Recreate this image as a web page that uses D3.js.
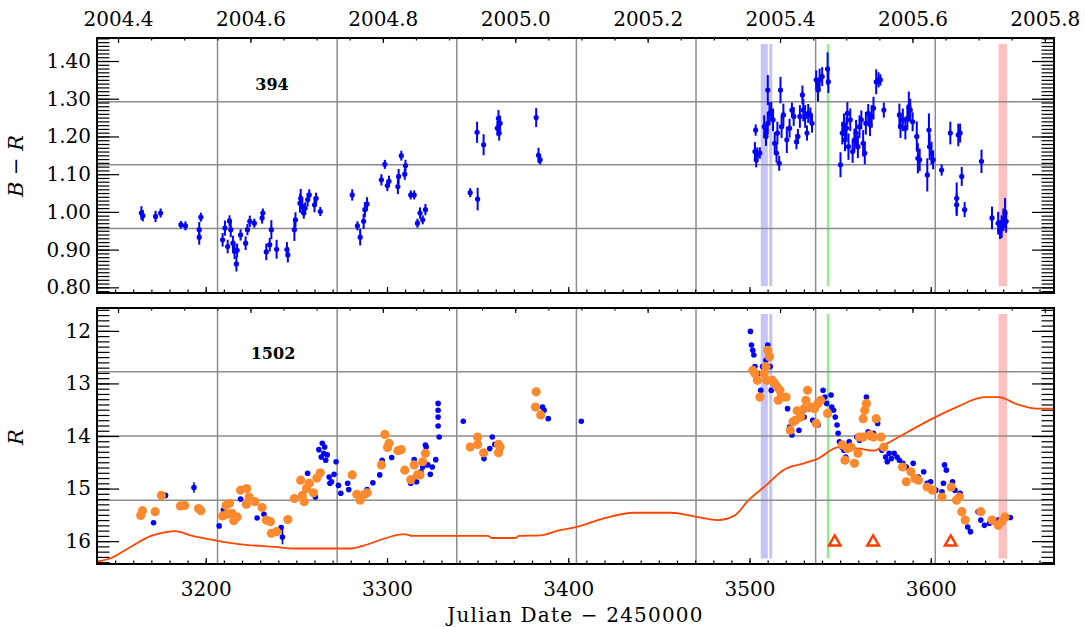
<!DOCTYPE html>
<html>
<head>
<meta charset="utf-8">
<script src="https://cdn.jsdelivr.net/npm/d3@7"></script>
<style>
body { margin: 0; background: #fff; }
svg text { font-family: "DejaVu Serif", serif; fill: #000; }
</style>
</head>
<body>
<div id="chart"></div>
<script>
// ---- data ----
// B - R colour, top panel
const bmrJD = [3164.5,3165.3,3172.3,3175.1,3186.3,3188.8,3196.4,3196.4,3197.3,3209.3,3210.6,3212.1,3213.1,3213.8,3215.0,3215.9,3216.9,3217.3,3219.2,3222.0,3223.0,3224.3,3226.8,3231.1,3231.5,3233.4,3235.3,3236.2,3239.1,3244.8,3245.3,3248.9,3249.5,3252.0,3252.4,3253.3,3254.1,3254.8,3256.2,3257.1,3260.0,3260.9,3263.2,3280.8,3283.7,3285.2,3287.1,3287.8,3289.0,3296.9,3298.8,3300.2,3301.1,3306.0,3306.4,3307.9,3309.8,3310.2,3313.1,3315.0,3316.8,3318.2,3319.7,3321.2,3345.9,3349.7,3350.0,3353.3,3360.9,3361.5,3361.9,3362.4,3382.3,3383.6,3384.5,
  3503.4,3503.0,3504.3,3505.7,3503.7,3508.1,3509.1,3510.1,3510.1,3511.0,3512.0,3513.0,3513.9,3514.9,3516.4,3515.4,3517.1,3517.7,3518.7,3520.6,3522.1,3523.4,3524.4,3525.9,3526.7,3527.8,3529.2,3529.7,3530.7,3531.7,3532.4,3533.6,3534.5,3536.8,3537.8,3538.7,3540.1,3543.1,3543.5,
  3550.2,3551.2,3552.1,3552.7,3553.5,3554.0,3554.6,3555.6,3556.9,3557.9,3558.8,3559.8,3560.7,3561.7,3562.7,3563.6,3564.2,3565.5,3566.5,3567.4,3568.4,3569.9,3571.2,3572.2,3574.1,
  3582.7,3583.3,3584.6,3586.0,3587.1,3587.9,3588.7,3590.0,3592.3,3592.9,3593.9,3598.1,3599.0,3599.4,3600.4,3601.3,3606.0,3610.8,3614.3,3614.3,3615.2,3616.2,3617.1,3618.7,3628.0,3633.8,3637.2,3638.2,3639.1,3640.1,3641.0,3641.6];
const bmrVal = [0.997,0.990,0.988,0.997,0.966,0.963,0.953,0.933,0.986,0.926,0.957,0.908,0.976,0.953,0.917,0.895,0.862,0.898,0.939,0.917,0.953,0.975,0.970,0.984,0.997,0.894,0.913,0.953,0.901,0.900,0.886,0.953,0.979,1.023,1.036,1.014,0.997,1.010,1.032,1.045,1.019,1.036,1.001,1.045,0.963,0.933,0.975,1.006,1.021,1.085,1.126,1.070,1.081,1.067,1.094,1.149,1.100,1.123,1.045,1.045,0.970,0.997,0.979,1.006,1.051,1.211,1.034,1.178,1.222,1.248,1.209,1.235,1.250,1.150,1.138,
  1.217,1.160,1.151,1.156,1.138,1.226,1.200,1.323,1.235,1.261,1.266,1.244,1.182,1.156,1.129,1.209,1.323,1.226,1.257,1.191,1.222,1.270,1.253,1.186,1.200,1.253,1.310,1.270,1.253,1.209,1.261,1.257,1.235,1.350,1.323,1.350,1.359,1.379,1.345,
  1.125,1.209,1.231,1.191,1.222,1.261,1.173,1.244,1.160,1.191,1.209,1.173,1.226,1.244,1.182,1.156,1.235,1.261,1.231,1.253,1.275,1.345,1.350,1.350,1.270,
  1.257,1.226,1.244,1.222,1.248,1.279,1.270,1.239,1.200,1.142,1.138,1.098,1.217,1.173,1.156,1.138,1.111,1.209,1.036,1.019,1.204,1.209,1.094,1.006,1.134,0.984,0.970,0.953,0.961,0.979,0.997,0.975];
const bmrErr = [0.018,0.015,0.015,0.012,0.010,0.012,0.020,0.020,0.012,0.018,0.020,0.018,0.015,0.020,0.020,0.020,0.020,0.018,0.015,0.018,0.015,0.015,0.012,0.015,0.012,0.022,0.018,0.025,0.025,0.020,0.020,0.030,0.020,0.025,0.025,0.020,0.015,0.015,0.018,0.015,0.020,0.015,0.012,0.015,0.012,0.022,0.020,0.020,0.018,0.015,0.012,0.015,0.015,0.020,0.020,0.013,0.015,0.015,0.012,0.012,0.012,0.015,0.012,0.015,0.012,0.028,0.030,0.028,0.020,0.022,0.020,0.020,0.025,0.020,0.012,
  0.015,0.025,0.020,0.015,0.020,0.030,0.025,0.040,0.030,0.030,0.025,0.030,0.030,0.025,0.020,0.030,0.035,0.030,0.030,0.035,0.025,0.020,0.025,0.020,0.020,0.030,0.025,0.030,0.030,0.020,0.025,0.020,0.025,0.025,0.030,0.030,0.025,0.044,0.030,
  0.033,0.030,0.030,0.030,0.030,0.030,0.035,0.030,0.030,0.030,0.035,0.030,0.030,0.025,0.035,0.030,0.030,0.025,0.030,0.030,0.030,0.033,0.020,0.015,0.020,
  0.030,0.030,0.030,0.030,0.030,0.040,0.030,0.025,0.040,0.040,0.030,0.044,0.044,0.035,0.030,0.025,0.015,0.030,0.042,0.030,0.030,0.025,0.025,0.020,0.031,0.030,0.030,0.025,0.030,0.030,0.040,0.030];

// R magnitude, bottom panel: blue set
const rBlueJD = [3171.2,3177.8,3193.5,3207.4,3209.7,3219.2,3228.3,3232.1,3241.6,3242.3,3256.2,3260.5,3262.4,3263.7,3264.3,3265.1,3265.6,3266.2,3267.0,3268.1,3268.5,3269.4,3270.8,3271.9,3273.2,3274.5,3278.3,3278.9,3289.0,3292.2,3296.0,3297.3,3302.6,3313.1,3315.0,3316.3,3318.7,3319.7,3321.2,3321.6,3322.5,3323.9,3325.0,3326.9,3328.2,3328.2,3328.2,3328.2,3328.8,3342.1,3353.5,3356.7,3358.1,3359.5,3385.8,3386.7,3389.0,3407.2,
  3500.5,3501.1,3501.8,3502.4,3503.0,3504.9,3506.2,3507.2,3508.1,3509.1,3510.1,3511.4,3512.0,3516.8,3521.0,3522.1,3523.4,3527.3,3528.6,3530.1,3533.0,3534.9,3536.3,3537.8,3538.7,3540.6,3541.6,3542.6,3545.0,3545.4,3546.4,3547.3,3548.3,3548.9,3549.6,3550.8,3552.1,3553.1,3555.0,3556.3,3557.9,3559.2,3560.7,3564.5,3565.5,3566.5,3568.4,3570.7,3573.1,3575.1,3576.0,3577.0,3578.3,3579.8,3581.4,3582.7,3584.6,3586.5,3590.3,3593.2,3596.1,3598.0,3599.9,3602.8,3606.2,3607.0,3607.6,3608.6,3612.0,3613.3,3616.2,3617.1,3619.0,3620.4,3621.9,3626.1,3627.6,3629.6,3632.4,3634.3,3637.2,3642.0,3643.9];
const rBlueMag = [15.65,15.13,14.98,15.71,15.41,15.20,15.56,15.49,15.74,15.92,14.71,15.16,14.26,14.40,14.14,14.33,14.21,14.46,14.36,14.78,14.90,14.87,14.73,14.49,14.94,15.09,14.90,15.02,15.02,14.89,14.74,14.46,14.41,14.90,14.45,14.87,14.68,14.59,14.17,14.21,14.55,14.73,14.59,14.45,13.38,13.51,13.64,13.81,14.02,13.72,14.43,14.24,14.02,14.16,13.45,13.51,13.67,13.72,
  12.01,12.27,12.37,12.46,12.68,12.81,13.13,12.68,12.72,12.56,12.27,12.68,13.13,13.19,13.48,13.83,13.98,13.89,13.57,13.64,13.48,13.70,13.73,13.79,13.38,13.13,13.26,13.38,13.22,13.45,13.51,13.64,13.79,13.95,14.11,14.21,14.27,14.40,14.11,14.21,14.52,14.02,14.08,13.26,13.92,14.02,13.95,13.76,14.27,14.40,14.49,14.33,14.43,14.33,14.40,14.46,14.52,14.59,14.52,14.78,14.68,14.90,14.87,15.03,15.06,14.90,14.55,14.65,14.87,15.03,15.09,15.41,15.57,15.73,15.82,15.44,15.60,15.70,15.66,15.63,15.60,15.55,15.55];
const rBlueErr = rBlueJD.map((d, i) => i === 2 ? 0.10 : i === 9 ? 0.14 : 0.02);

// R magnitude, bottom panel: orange set
const rOrangeJD = [3164.1,3165.1,3172.1,3175.5,3186.0,3188.4,3196.0,3197.3,3209.3,3211.2,3213.1,3211.6,3214.4,3215.4,3217.3,3219.2,3222.6,3223.9,3222.4,3227.1,3231.1,3233.4,3235.7,3236.2,3239.1,3245.3,3248.9,3252.4,3253.3,3254.3,3255.6,3257.1,3259.4,3261.3,3263.2,3280.8,3283.3,3285.2,3287.5,3289.0,3296.9,3298.8,3300.3,3301.1,3306.0,3307.9,3309.8,3313.1,3315.0,3316.8,3318.2,3319.7,3321.2,3345.9,3350.0,3350.0,3353.3,3361.5,3361.5,3362.4,3382.3,3381.9,3384.8,
  3501.8,3503.0,3504.3,3505.7,3508.1,3509.1,3510.1,3511.0,3509.5,3512.6,3513.9,3515.2,3516.8,3515.8,3517.7,3520.2,3522.5,3524.0,3525.3,3526.3,3528.2,3530.1,3531.1,3532.0,3533.9,3535.9,3536.8,3537.8,3539.3,3543.1,3551.2,3552.7,3554.0,3556.0,3557.9,3559.8,3560.7,3562.7,3562.7,3563.6,3564.5,3566.5,3568.4,3569.9,3572.6,3574.1,3584.4,3586.5,3589.0,3591.3,3593.2,3598.0,3600.9,3606.2,3611.3,3614.2,3615.8,3617.1,3619.0,3627.6,3633.8,3637.2,3639.1,3641.0];
const rOrangeMag = [15.51,15.42,15.44,15.13,15.33,15.32,15.38,15.42,15.52,15.32,15.28,15.49,15.47,15.61,15.54,15.03,15.00,15.16,15.30,15.25,15.36,15.60,15.63,15.85,15.82,15.59,15.19,14.84,15.13,15.25,15.00,14.90,15.08,14.80,14.70,14.74,15.11,15.22,15.11,15.08,14.55,13.97,14.22,14.14,14.28,14.26,14.65,14.83,14.55,14.74,14.74,14.49,14.33,14.21,14.02,14.16,14.32,14.16,14.32,14.21,13.16,13.45,13.60,
  12.75,12.81,12.94,13.26,12.81,12.68,12.37,12.49,12.94,12.94,13.00,13.07,13.13,13.32,13.26,13.26,13.89,13.73,13.70,13.52,13.64,13.48,13.32,13.13,13.45,13.48,13.76,13.38,13.32,13.57,14.17,14.46,14.24,14.21,14.52,14.33,14.02,14.02,13.67,13.51,13.38,13.98,14.02,13.67,14.02,14.21,14.59,14.87,14.68,14.81,14.84,14.97,15.03,15.16,14.97,15.22,15.16,15.44,15.60,15.44,15.60,15.70,15.63,15.54];

// limiting-magnitude curve
const limitJD  = [3140.0,3147.1,3158.5,3169.8,3178.0,3183.1,3192.6,3205.9,3219.2,3238.1,3249.5,3279.9,3287.5,3298.8,3308.0,3310.2,3314.0,3355.7,3357.6,3370.9,3372.8,3384.8,3394.4,3404.7,3419.2,3436.4,3456.5,3470.9,3482.3,3491.9,3499.5,3509.1,3518.6,3530.1,3537.8,3549.2,3560.7,3568.4,3576.0,3587.5,3600.9,3614.3,3629.6,3637.2,3648.7,3658.3,3668.0];
const limitMag = [16.39,16.33,16.11,15.90,15.83,15.81,15.90,15.99,16.06,16.11,16.14,16.14,16.08,15.95,15.87,15.87,15.90,15.90,15.94,15.94,15.90,15.89,15.80,15.73,15.57,15.46,15.46,15.54,15.60,15.51,15.22,14.94,14.65,14.52,14.43,14.21,14.24,14.28,14.14,13.92,13.67,13.45,13.26,13.26,13.41,13.48,13.48];

// open triangles
const triJD  = [3547.0, 3568.2, 3611.0];
const triMag = [16.0, 16.0, 16.0];

// marked intervals
const blueBands = [[3506.2, 3510.1], [3510.9, 3512.6]];
const greenJD = 3543.4;
const redBand = [3637.4, 3642.1];

// grid positions
const gridJD  = [3206.5, 3272.5, 3338.5, 3404.5, 3470.5, 3536.5, 3602.5];
const gridBmr = [0.956, 1.125, 1.292];
const gridR   = [12.78, 14.0, 15.22];

// tick labels
const yearLabels = [2004.4, 2004.6, 2004.8, 2005.0, 2005.2, 2005.4, 2005.6, 2005.8];
const jdLabels   = [3200, 3300, 3400, 3500, 3600];
const bmrLabels  = [0.8, 0.9, 1.0, 1.1, 1.2, 1.3, 1.4];
const rLabels    = [12, 13, 14, 15, 16];

// ---- layout ----
const width = 1085, height = 627;
const left = 97, right = 1054;
const svg = d3.select('#chart').append('svg')
  .attr('width', width).attr('height', height)
  .attr('viewBox', `0 0 ${width} ${height}`);

const x = d3.scaleLinear().domain([3140, 3668]).range([left, right]);
const toYear = jd => 2004 + (jd - 3005.5) / 365.25;
const xYear = d3.scaleLinear().domain([toYear(3140), toYear(3668)]).range([left, right]);

const yBmr = d3.scaleLinear().domain([0.785, 1.461]).range([293, 38]);
const yR = d3.scaleLinear().domain([11.565, 16.435]).range([308, 564]);

const round = v => Math.round(v * 1000) / 1000;
const yearMinor = d3.range(2004.40, 2005.81, 0.05).map(round);
const jdMinor = d3.range(3140, 3668, 10);
const bmrMinor = d3.range(0.79, 1.465, 0.01).map(round);
const rMinor = d3.range(11.6, 16.45, 0.1).map(round);

function drawPanel(y, gridY, minorY, majorY, fmt, bandRange, labelTop) {
  const [y0, y1] = [y.range()[1], y.range()[0]].sort((a, b) => a - b);
  const g = svg.append('g');

  // shaded intervals
  blueBands.forEach(b => g.append('rect')
    .attr('x', x(b[0])).attr('width', x(b[1]) - x(b[0]))
    .attr('y', y(bandRange[0])).attr('height', y(bandRange[1]) - y(bandRange[0]))
    .attr('fill', '#c4c4f6'));
  g.append('rect')
    .attr('x', x(redBand[0])).attr('width', x(redBand[1]) - x(redBand[0]))
    .attr('y', y(bandRange[0])).attr('height', y(bandRange[1]) - y(bandRange[0]))
    .attr('fill', '#fcc0c0');
  g.append('line')
    .attr('x1', x(greenJD)).attr('x2', x(greenJD))
    .attr('y1', y(bandRange[0])).attr('y2', y(bandRange[1]))
    .attr('stroke', '#90ee90').attr('stroke-width', 2.5);

  // grid
  g.selectAll('.vg').data(gridJD).join('line')
    .attr('x1', d => x(d)).attr('x2', d => x(d)).attr('y1', y0).attr('y2', y1)
    .attr('stroke', '#8c8c8c').attr('stroke-width', 1.5);
  g.selectAll('.hg').data(gridY).join('line')
    .attr('x1', left).attr('x2', right).attr('y1', d => y(d)).attr('y2', d => y(d))
    .attr('stroke', '#8c8c8c').attr('stroke-width', 1.5);

  // axes: bottom JD, top year, left/right value
  const ax = (gen, tr) => {
    const a = g.append('g').attr('transform', tr).call(gen);
    a.select('.domain').remove();
    a.selectAll('line').attr('stroke', '#000').attr('stroke-width', 1.2);
    a.selectAll('text').attr('font-size', 20).attr('fill', '#000')
      .attr('font-family', '"DejaVu Serif", serif');
    return a;
  };
  ax(d3.axisBottom(x).tickValues(jdMinor).tickSizeInner(-3.5).tickFormat(''), `translate(0,${y1})`);
  ax(d3.axisBottom(x).tickValues(jdLabels).tickSizeInner(-6).tickPadding(18)
    .tickFormat(labelTop ? '' : d3.format('d')), `translate(0,${y1})`);
  ax(d3.axisTop(xYear).tickValues(yearMinor).tickSizeInner(-2.5).tickFormat(''), `translate(0,${y0})`);
  ax(d3.axisTop(xYear).tickValues(yearLabels).tickSizeInner(-5).tickPadding(12)
    .tickFormat(labelTop ? d3.format('.1f') : ''), `translate(0,${y0})`);
  ax(d3.axisLeft(y).tickValues(minorY).tickSizeInner(-12.5).tickFormat(''), `translate(${left},0)`);
  ax(d3.axisLeft(y).tickValues(majorY).tickSizeInner(-22).tickPadding(6).tickFormat(fmt), `translate(${left},0)`);
  ax(d3.axisRight(y).tickValues(minorY).tickSizeInner(-12.5).tickFormat(''), `translate(${right},0)`);
  ax(d3.axisRight(y).tickValues(majorY).tickSizeInner(-22).tickFormat(''), `translate(${right},0)`);

  return g;
}

// ---- top panel: B - R ----
const gTop = drawPanel(yBmr, gridBmr, bmrMinor, bmrLabels, d3.format('.2f'), [1.445, 0.803], true);
const bmr = bmrJD.map((d, i) => ({jd: d, v: bmrVal[i], e: bmrErr[i]}));
gTop.append('g').selectAll('line').data(bmr).join('line')
  .attr('x1', d => x(d.jd)).attr('x2', d => x(d.jd))
  .attr('y1', d => yBmr(d.v - d.e)).attr('y2', d => yBmr(d.v + d.e))
  .attr('stroke', '#0000ff').attr('stroke-width', 2);
gTop.append('g').selectAll('circle').data(bmr).join('circle')
  .attr('cx', d => x(d.jd)).attr('cy', d => yBmr(d.v)).attr('r', 2.6)
  .attr('fill', '#0000ff');
gTop.append('text').attr('x', 272).attr('y', 90).attr('text-anchor', 'middle')
  .attr('font-size', 16).attr('font-weight', 'bold').text('394');
svg.append('rect').attr('x', left).attr('y', 38).attr('width', right - left).attr('height', 293 - 38)
  .attr('fill', 'none').attr('stroke', '#000').attr('stroke-width', 2);
svg.append('text').attr('transform', 'translate(23,166) rotate(-90)').attr('text-anchor', 'middle')
  .attr('font-size', 21).attr('font-style', 'italic').text('B − R');

// ---- bottom panel: R ----
const gBot = drawPanel(yR, gridR, rMinor, rLabels, d3.format('d'), [11.68, 16.33], false);
gBot.append('path')
  .datum(limitJD.map((d, i) => [d, limitMag[i]]))
  .attr('d', d3.line().x(d => x(d[0])).y(d => yR(d[1])).curve(d3.curveMonotoneX))
  .attr('fill', 'none').attr('stroke', '#ff4500').attr('stroke-width', 1.8);
const blue = rBlueJD.map((d, i) => ({jd: d, m: rBlueMag[i], e: rBlueErr[i]}));
gBot.append('g').selectAll('line').data(blue).join('line')
  .attr('x1', d => x(d.jd)).attr('x2', d => x(d.jd))
  .attr('y1', d => yR(d.m - d.e)).attr('y2', d => yR(d.m + d.e))
  .attr('stroke', '#0000ff').attr('stroke-width', 1.6);
gBot.append('g').selectAll('circle').data(blue).join('circle')
  .attr('cx', d => x(d.jd)).attr('cy', d => yR(d.m)).attr('r', 2.8)
  .attr('fill', '#0000ff');
gBot.append('g').selectAll('circle').data(rOrangeJD.map((d, i) => [d, rOrangeMag[i]])).join('circle')
  .attr('cx', d => x(d[0])).attr('cy', d => yR(d[1])).attr('r', 4.6)
  .attr('fill', '#fb8a2e');
gBot.append('g').selectAll('path').data(triJD.map((d, i) => [d, triMag[i]])).join('path')
  .attr('transform', d => `translate(${x(d[0])},${yR(d[1]) + 1})`)
  .attr('d', d3.symbol(d3.symbolTriangle, 60))
  .attr('fill', 'none').attr('stroke', '#ff3c00').attr('stroke-width', 2.4);
gBot.append('text').attr('x', 273).attr('y', 359).attr('text-anchor', 'middle')
  .attr('font-size', 16).attr('font-weight', 'bold').text('1502');
svg.append('rect').attr('x', left).attr('y', 308).attr('width', right - left).attr('height', 564 - 308)
  .attr('fill', 'none').attr('stroke', '#000').attr('stroke-width', 2);
svg.append('text').attr('transform', 'translate(23,437) rotate(-90)').attr('text-anchor', 'middle')
  .attr('font-size', 21).attr('font-style', 'italic').text('R');

svg.append('text').attr('x', (left + right) / 2).attr('y', 622).attr('text-anchor', 'middle')
  .attr('font-size', 20).attr('letter-spacing', 1.2).text('Julian Date − 2450000');
</script>
</body>
</html>
